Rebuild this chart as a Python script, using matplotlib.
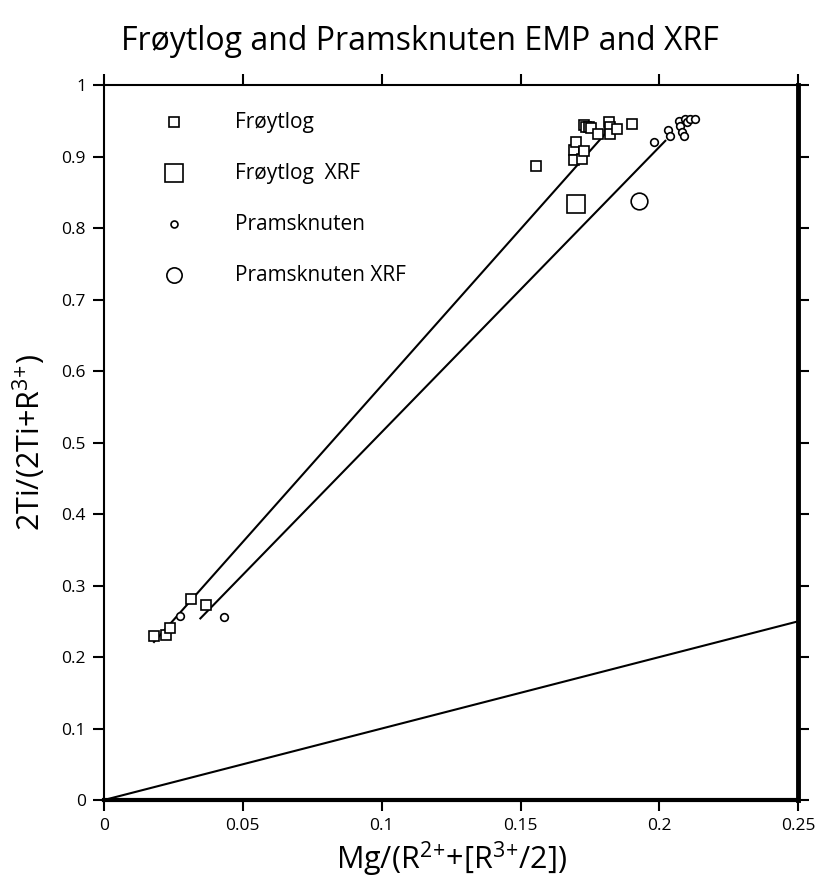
import matplotlib
matplotlib.use('Agg')
import matplotlib.pyplot as plt
import numpy as np

plt.rcParams['font.family'] = ['Open Sans', 'DejaVu Sans']
plt.rcParams['mathtext.default'] = 'regular'

# Frøytlog EMP analyses
froy_x = [0.018, 0.0223, 0.0237, 0.0315, 0.0369,
          0.1556, 0.1692, 0.1692, 0.1698, 0.1720, 0.1728,
          0.1728, 0.1734, 0.1746, 0.1752, 0.1780, 0.1818,
          0.1820, 0.1823, 0.1847, 0.1900]
froy_y = [0.229, 0.2315, 0.240, 0.281, 0.273,
          0.887, 0.909, 0.895, 0.921, 0.896, 0.908,
          0.944, 0.942, 0.941, 0.940, 0.932, 0.948,
          0.941, 0.932, 0.939, 0.945]
froy_xrf_x = [0.1698]
froy_xrf_y = [0.834]

# Pramsknuten EMP analyses
pram_x = [0.0275, 0.0431,
          0.1979, 0.2031, 0.2039, 0.2069, 0.2075, 0.2081,
          0.2087, 0.2093, 0.2099, 0.2111, 0.2129]
pram_y = [0.257, 0.256,
          0.920, 0.937, 0.929, 0.950, 0.943, 0.935,
          0.929, 0.952, 0.948, 0.953, 0.953]
pram_xrf_x = [0.1925]
pram_xrf_y = [0.838]

# fitted trend lines (end points)
froy_fit_x = [0.018, 0.1806]
froy_fit_y = [0.221, 0.9325]
pram_fit_x = [0.0347, 0.2021]
pram_fit_y = [0.254, 0.922]
one_x = [0, 0.25]
one_y = [0, 0.25]

fig = plt.figure(figsize=(8.15, 8.84), dpi=100)
ax = fig.add_axes([0.1276, 0.095, 0.852, 0.8088])

ax.plot(one_x, one_y, c='k', lw=1.5)
ax.plot(froy_fit_x, froy_fit_y, c='k', lw=1.5)
ax.plot(pram_fit_x, pram_fit_y, c='k', lw=1.5)

mk = dict(ls='none', mfc='white', mec='k', mew=1.2)
ax.plot(froy_x, froy_y, marker='s', ms=7, **mk)
ax.plot(froy_xrf_x, froy_xrf_y, marker='s', ms=13.5, **mk)
ax.plot(pram_x, pram_y, marker='o', ms=5.5, **mk)
ax.plot(pram_xrf_x, pram_xrf_y, marker='o', ms=12, **mk)

# legend drawn by hand
legend_labels = ['Frøytlog', 'Frøytlog  XRF', 'Pramsknuten', 'Pramsknuten XRF']
legend_markers = [('s', 6.5), ('s', 13), ('o', 5), ('o', 11)]
for i, (lab, (m, s)) in enumerate(zip(legend_labels, legend_markers)):
    yy = 0.948 - i * 0.0713
    ax.plot([0.1006], [yy], marker=m, ms=s, transform=ax.transAxes,
            clip_on=False, **mk)
    ax.text(0.189, yy, lab, transform=ax.transAxes, fontsize=15,
            va='center', ha='left')

ax.set_xlim(0, 0.25)
ax.set_ylim(0, 1)
ax.set_xticks([0, 0.05, 0.1, 0.15, 0.2, 0.25])
ax.set_xticklabels(['0', '0.05', '0.1', '0.15', '0.2', '0.25'])
ax.set_yticks(np.arange(0, 1.01, 0.1))
ax.set_yticklabels(['0', '0.1', '0.2', '0.3', '0.4', '0.5', '0.6',
                    '0.7', '0.8', '0.9', '1'])
ax.tick_params(direction='out', length=8, width=1.5, labelsize=12.5,
               top=True, right=True, pad=5)
ax.tick_params(axis='y', labelright=False)
ax.tick_params(axis='x', labeltop=False)
ax.spines['left'].set_linewidth(1.5)
ax.spines['top'].set_linewidth(1.5)
ax.spines['right'].set_linewidth(3.5)
ax.spines['bottom'].set_linewidth(3.0)

ax.set_xlabel('Mg/(R$^{2}$$^{+}$+[R$^{3}$$^{+}$/2])', fontsize=22, labelpad=4)
ax.set_ylabel('2Ti/(2Ti+R$^{3}$$^{+}$)', fontsize=22, labelpad=10)
fig.suptitle('Frøytlog and Pramsknuten EMP and XRF', fontsize=23,
             x=0.515, y=0.972)

plt.savefig('out.png', dpi=100)
